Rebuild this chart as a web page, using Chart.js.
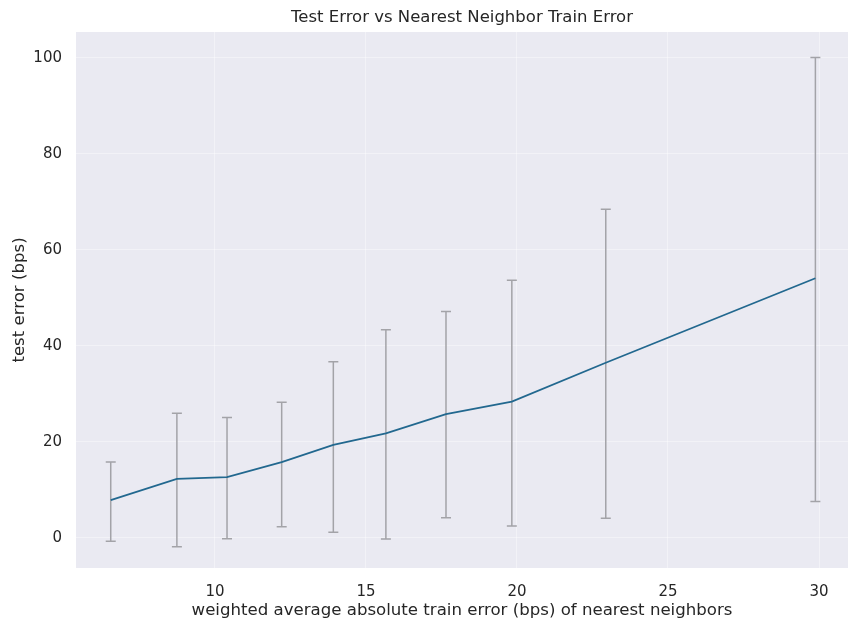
<!DOCTYPE html>
<html>
<head>
<meta charset="utf-8">
<script src="https://cdn.jsdelivr.net/npm/chart.js@4"></script>
<style>
  html, body { margin: 0; padding: 0; background: #ffffff; }
  #wrap { width: 860px; height: 633px; }
</style>
</head>
<body>
<div id="wrap"><canvas id="grafico" width="860" height="633"></canvas></div>
<script>
// train error of nearest neighbors (x) and test error (y) with error bar ends
const trainError = [6.55, 8.74, 10.40, 12.21, 13.92, 15.66, 17.65, 19.83, 22.94, 29.88];
const testError  = [7.9, 12.3, 12.7, 15.8, 19.4, 21.8, 25.8, 28.4, 36.5, 54.1];
const errLow     = [-0.7, -1.8, -0.15, 2.35, 1.2, -0.2, 4.2, 2.5, 4.1, 7.6];
const errHigh    = [15.85, 26.0, 25.1, 28.3, 36.7, 43.4, 47.2, 53.7, 68.5, 100.1];
const xTicks = [10, 15, 20, 25, 30];
const yTicks = [0, 20, 40, 60, 80, 100];

const textColor = '#262626';
const fontFamily = '"DejaVu Sans", sans-serif';

const fundo = {
  id: 'fundo',
  afterLayout(chart) {
    // center the title over the plot area, like matplotlib does
    const a = chart.chartArea;
    if (chart.titleBlock) {
      chart.titleBlock.left = a.left;
      chart.titleBlock.right = a.right;
    }
  },
  beforeDraw(chart) {
    const { ctx, chartArea: a } = chart;
    ctx.save();
    ctx.fillStyle = '#eaeaf2';
    ctx.fillRect(a.left, a.top, a.right - a.left, a.bottom - a.top);
    ctx.restore();
  }
};

const barrasErro = {
  id: 'barrasErro',
  beforeDatasetsDraw(chart) {
    const { ctx } = chart;
    const xs = chart.scales.x, ys = chart.scales.y;
    ctx.save();
    ctx.strokeStyle = '#a3a3a8';
    ctx.lineWidth = 1.5;
    trainError.forEach((xv, i) => {
      const px = xs.getPixelForValue(xv);
      const top = ys.getPixelForValue(errHigh[i]);
      const bot = ys.getPixelForValue(errLow[i]);
      ctx.beginPath();
      ctx.moveTo(px, top); ctx.lineTo(px, bot);
      ctx.moveTo(px - 5, top); ctx.lineTo(px + 5, top);
      ctx.moveTo(px - 5, bot); ctx.lineTo(px + 5, bot);
      ctx.stroke();
    });
    ctx.restore();
  }
};

const ctx = document.getElementById('grafico').getContext('2d');
new Chart(ctx, {
  type: 'line',
  data: {
    datasets: [{
      data: trainError.map((x, i) => ({ x: x, y: testError[i] })),
      borderColor: '#22688f',
      borderWidth: 1.8,
      pointRadius: 0,
      tension: 0,
      fill: false
    }]
  },
  options: {
    responsive: false,
    animation: false,
    layout: { padding: { left: 0, right: 12, top: 0, bottom: 0 } },
    plugins: {
      legend: { display: false },
      tooltip: { enabled: false },
      title: {
        display: true,
        text: 'Test Error vs Nearest Neighbor Train Error',
        color: textColor,
        font: { family: fontFamily, size: 16.5, weight: 'normal', lineHeight: 1.2 },
        padding: { top: 8.1, bottom: 4.1 }
      }
    },
    scales: {
      x: {
        type: 'linear',
        min: 5.40,
        max: 30.96,
        afterFit(s) { s.height = 65; },
        afterBuildTicks(s) { s.ticks = xTicks.map(v => ({ value: v })); },
        grid: { color: 'rgba(255,255,255,0.4)', lineWidth: 1, drawTicks: false },
        border: { display: false },
        ticks: {
          color: textColor,
          font: { family: fontFamily, size: 15 },
          padding: 15,
          maxRotation: 0
        },
        title: {
          display: true,
          text: 'weighted average absolute train error (bps) of nearest neighbors',
          color: textColor,
          font: { family: fontFamily, size: 16.6, lineHeight: 1.2 },
          padding: { top: 0, bottom: 12 }
        }
      },
      y: {
        type: 'linear',
        min: -6.25,
        max: 105.4,
        afterFit(s) { s.width = 76; },
        afterBuildTicks(s) { s.ticks = yTicks.map(v => ({ value: v })); },
        grid: { color: 'rgba(255,255,255,0.4)', lineWidth: 1, drawTicks: false },
        border: { display: false },
        ticks: {
          color: textColor,
          font: { family: fontFamily, size: 15 },
          padding: 14
        },
        title: {
          display: true,
          text: 'test error (bps)',
          color: textColor,
          font: { family: fontFamily, size: 16.6, lineHeight: 1.2 },
          padding: { top: 10, bottom: 0 }
        }
      }
    }
  },
  plugins: [fundo, barrasErro]
});
</script>
</body>
</html>
